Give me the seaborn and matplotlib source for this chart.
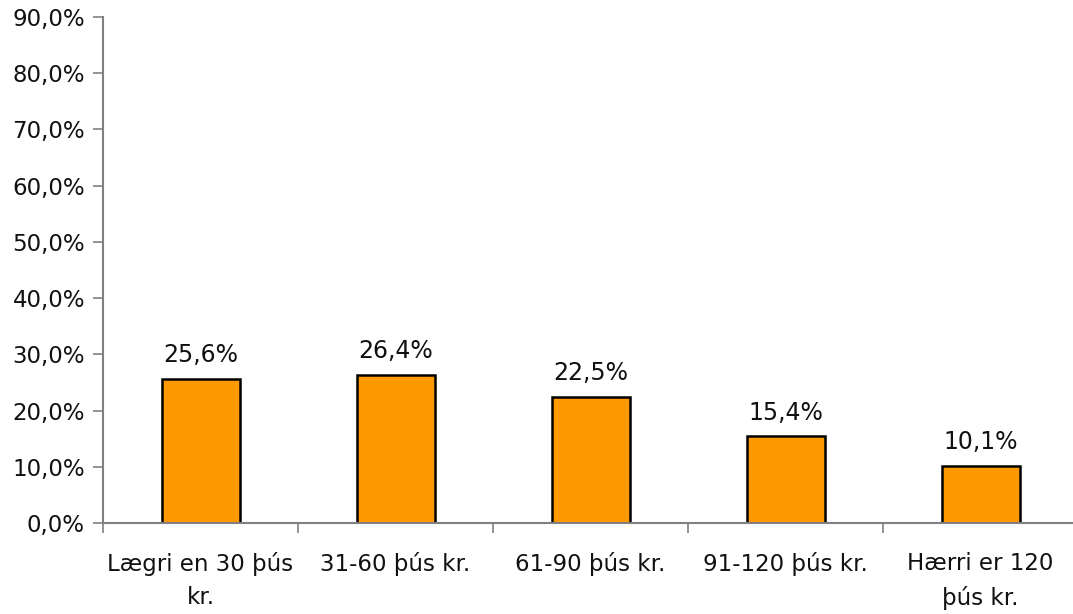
import numpy as np
import pandas as pd
import seaborn as sns
import matplotlib.pyplot as plt
from matplotlib.ticker import FuncFormatter

sns.set_style("white")
plt.rcParams['font.family'] = ['DejaVu Sans']

categories = ['Lægri en 30 þús\nkr.', '31-60 þús kr.', '61-90 þús kr.',
              '91-120 þús kr.', 'Hærri er 120\nþús kr.']
values = [25.6, 26.4, 22.5, 15.4, 10.1]

df = pd.DataFrame({'cat': categories, 'val': values})

fig = plt.figure(figsize=(10.73, 6.14), dpi=100)
ax = fig.add_axes([103 / 1073, (614 - 523) / 614, 975 / 1073, 506 / 614])

sns.barplot(data=df, x='cat', y='val', color='#FF9900', edgecolor='black',
            linewidth=1.8, width=0.4, saturation=1, ax=ax)

for i, v in enumerate(values):
    ax.text(i, v + 3.0, f"{v:.1f}%".replace('.', ','), ha='center', va='baseline',
            fontsize=17, color='#111111')

ax.set_ylim(0, 90)
ax.set_xlim(-0.5, 4.5)
ax.set_yticks(np.arange(0, 91, 10))
ax.yaxis.set_major_formatter(FuncFormatter(lambda y, _: f"{y:.1f}%".replace('.', ',')))
ax.set_xticks(range(len(categories)))
ax.set_xticklabels(categories)
ax.set_xticks([-0.5, 0.5, 1.5, 2.5, 3.5], minor=True)
ax.tick_params(axis='x', which='major', length=0, pad=21, labelsize=16.5, colors='#111111')
ax.tick_params(axis='x', which='minor', length=7, width=1.2, color='#808080', bottom=True)
ax.tick_params(axis='y', length=7, width=1.2, color='#808080', labelsize=16.5,
               labelcolor='#111111', left=True, pad=6)
for lbl in ax.get_xticklabels():
    lbl.set_multialignment('center')
    lbl.set_verticalalignment('top')
    lbl.set_linespacing(1.55)

for s in ['top', 'right']:
    ax.spines[s].set_visible(False)
for s in ['left', 'bottom']:
    ax.spines[s].set_color('#808080')
    ax.spines[s].set_linewidth(1.5)

ax.set_xlabel('')
ax.set_ylabel('')

fig.savefig('out.png', dpi=100)
